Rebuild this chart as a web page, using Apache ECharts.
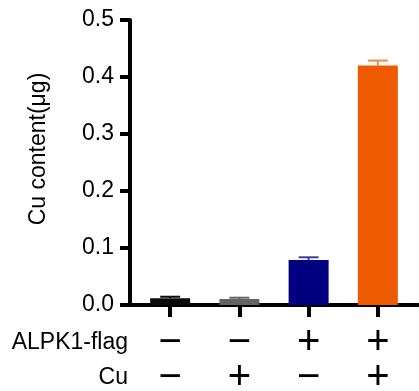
<!DOCTYPE html>
<html>
<head>
<meta charset="utf-8">
<script src="https://cdn.jsdelivr.net/npm/echarts@6/dist/echarts.min.js"></script>
<style>html,body{margin:0;padding:0;background:#fff}#c{width:419px;height:391px}</style>
</head>
<body>
<div id="c"></div>
<script>
// Data
const groups = [0, 1, 2, 3];
const values = [0.012, 0.0105, 0.079, 0.42];
const errors = [0.0025, 0.0023, 0.0047, 0.0088];
const flagRow = ['−', '−', '+', '+'];
const cuRow = ['−', '+', '−', '+'];
const yTicks = [0, 0.1, 0.2, 0.3, 0.4, 0.5];
const barColors = ['#0a0a0a', '#646464', '#000080', '#EE5A00'];
const errColors = ['#0a0a0a', '#646464', '#3c3ca8', '#F28A50'];

const FONT = '"Liberation Sans", Arial, sans-serif';
const chart = echarts.init(document.getElementById('c'), null, {renderer: 'canvas'});

const xBase = {
  type: 'value', min: -0.58, max: 3.58, gridIndex: 0, position: 'bottom',
  splitLine: {show: false}
};

chart.setOption({
  animation: false,
  grid: {left: 130, right: 1, top: 20, bottom: 86, containLabel: false, outerBoundsMode: 'none'},
  xAxis: [
    Object.assign({}, xBase, {
      axisLine: {show: true, onZero: false, lineStyle: {color: '#000', width: 4}},
      axisTick: {show: true, customValues: groups, length: 12, lineStyle: {color: '#000', width: 4}},
      axisLabel: {show: false}
    }),
    Object.assign({}, xBase, {
      offset: 38,
      name: 'ALPK1-flag', nameLocation: 'start', nameGap: 2,
      nameTextStyle: {fontFamily: FONT, fontSize: 23, color: '#000', align: 'right', verticalAlign: 'middle'},
      axisLine: {show: false, onZero: false}, axisTick: {show: false},
      axisLabel: {show: true, customValues: groups, margin: 0, verticalAlign: 'middle',
        fontFamily: FONT, fontSize: 40, color: '#000',
        formatter: v => flagRow[Math.round(v)]}
    }),
    Object.assign({}, xBase, {
      offset: 73,
      name: 'Cu', nameLocation: 'start', nameGap: 2,
      nameTextStyle: {fontFamily: FONT, fontSize: 23, color: '#000', align: 'right', verticalAlign: 'middle'},
      axisLine: {show: false, onZero: false}, axisTick: {show: false},
      axisLabel: {show: true, customValues: groups, margin: 0, verticalAlign: 'middle',
        fontFamily: FONT, fontSize: 40, color: '#000',
        formatter: v => cuRow[Math.round(v)]}
    })
  ],
  yAxis: {
    type: 'value', min: 0, max: 0.5, interval: 0.1,
    axisLine: {show: true, onZero: false, lineStyle: {color: '#000', width: 4}},
    axisTick: {show: true, length: 10, lineStyle: {color: '#000', width: 4}},
    axisLabel: {fontFamily: FONT, fontSize: 23, color: '#000', margin: 16,
      formatter: v => v.toFixed(1)},
    splitLine: {show: false}
  },
  graphic: [{
    type: 'text', x: 39, y: 149, rotation: Math.PI / 2,
    style: {text: 'Cu content(μg)', font: '23px ' + FONT, fill: '#000', align: 'center', verticalAlign: 'middle'}
  }],
  series: [
    {
      type: 'bar', xAxisIndex: 0, yAxisIndex: 0, barWidth: 40,
      data: groups.map((g, i) => ({value: [g, values[i]], itemStyle: {color: barColors[i]}})),
      z: 2
    },
    {
      type: 'custom', xAxisIndex: 0, yAxisIndex: 0, z: 3,
      data: groups.map((g, i) => [g, values[i], errors[i]]),
      renderItem: function (params, api) {
        const i = params.dataIndex;
        const p0 = api.coord([api.value(0), api.value(1)]);
        const p1 = api.coord([api.value(0), api.value(1) + api.value(2)]);
        const st = {stroke: errColors[i], lineWidth: 2};
        return {type: 'group', children: [
          {type: 'line', shape: {x1: p0[0], y1: p0[1], x2: p1[0], y2: p1[1]}, style: st},
          {type: 'line', shape: {x1: p1[0] - 10, y1: p1[1], x2: p1[0] + 10, y2: p1[1]}, style: st}
        ]};
      }
    }
  ]
});
</script>
</body>
</html>
